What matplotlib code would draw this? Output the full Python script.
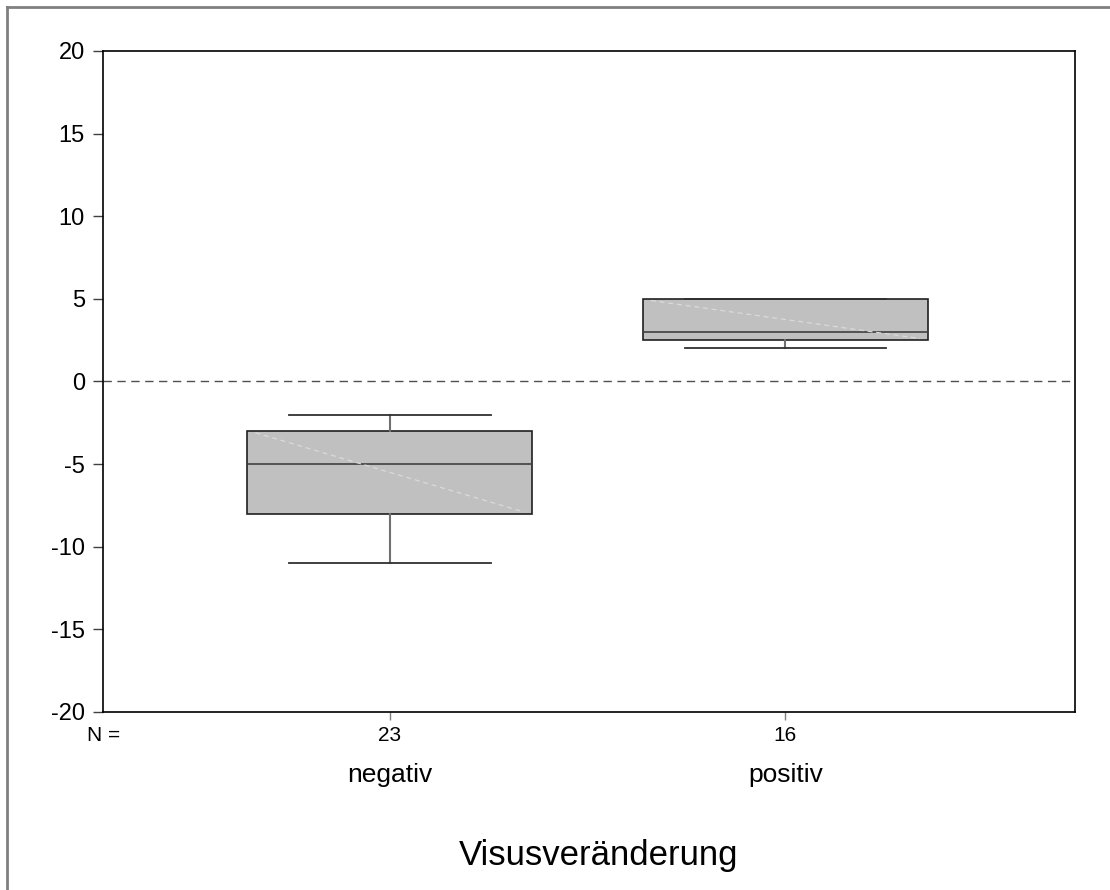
import matplotlib.pyplot as plt
from matplotlib.lines import Line2D
from matplotlib import transforms

plt.rcParams['font.family'] = ['Liberation Sans', 'DejaVu Sans']

## data

groups = ["negativ", "positiv"]
n_counts = [23, 16]
whis_lo = [-11, 2]
q1 = [-8, 2.5]
medians = [-5, 3]
q3 = [-3, 5]
whis_hi = [-2, 5]

xlabel = "Visusveränderung"
yticks = [-20, -15, -10, -5, 0, 5, 10, 15, 20]

## plotting

fig = plt.figure(figsize=(11.1, 8.9), dpi=100)
ax = fig.add_axes([0.0928, 0.2, 0.8757, 0.7427])

stats = []
for i in range(len(groups)):
    stats.append({'whislo': whis_lo[i], 'q1': q1[i], 'med': medians[i],
                  'q3': q3[i], 'whishi': whis_hi[i], 'fliers': []})

pos = [1, 2]
box_w = 0.72
ax.bxp(stats, positions=pos, widths=box_w, patch_artist=True,
       showfliers=False, capwidths=0.51,
       boxprops=dict(facecolor='#c0c0c0', edgecolor='#202020', linewidth=1.2),
       medianprops=dict(color='#404040', linewidth=1.2),
       whiskerprops=dict(color='#707070', linewidth=1.5),
       capprops=dict(color='#303030', linewidth=1.3))

# faint diagonal inside each box (rendering artefact of the original)
for i, p in enumerate(pos):
    ax.plot([p - box_w / 2 + 0.02, p + box_w / 2 - 0.02], [q3[i] - 0.1, q1[i] + 0.1],
            color='#dadada', linewidth=0.9, linestyle=(0, (4, 3)), zorder=3)

ax.axhline(0, color='#505050', linewidth=1, linestyle=(0, (6, 4)), zorder=1)

ax.set_xlim(0.275, 2.732)
ax.set_ylim(-20, 20)
ax.set_yticks(yticks)
ax.set_yticklabels([str(v) for v in yticks], fontsize=17)
ax.set_xticks(pos)
ax.set_xticklabels([str(n) for n in n_counts], fontsize=15)
ax.tick_params(axis='y', direction='out', length=7, width=1, pad=6, color='#404040')
ax.tick_params(axis='x', direction='out', length=6, width=1, pad=4, color='#808080')
for sp in ax.spines.values():
    sp.set_color('black')
    sp.set_linewidth(1.2)

trans = transforms.blended_transform_factory(ax.transData, ax.transAxes)
for p, g in zip(pos, groups):
    ax.text(p, -0.095, g, transform=trans, ha='center', va='center', fontsize=19)
ax.text(-0.0165, -0.035, "N =", transform=ax.transAxes, ha='left', va='center',
        fontsize=15)

fig.text(0.539, 0.039, xlabel, ha='center', va='center', fontsize=25)

# grey frame on left and top of the picture
fig.add_artist(Line2D([0.0065, 0.0065], [0, 0.992], transform=fig.transFigure,
                      color='#808080', linewidth=2))
fig.add_artist(Line2D([0.0065, 1], [0.992, 0.992], transform=fig.transFigure,
                      color='#808080', linewidth=2))

plt.savefig("out.png", dpi=100)
